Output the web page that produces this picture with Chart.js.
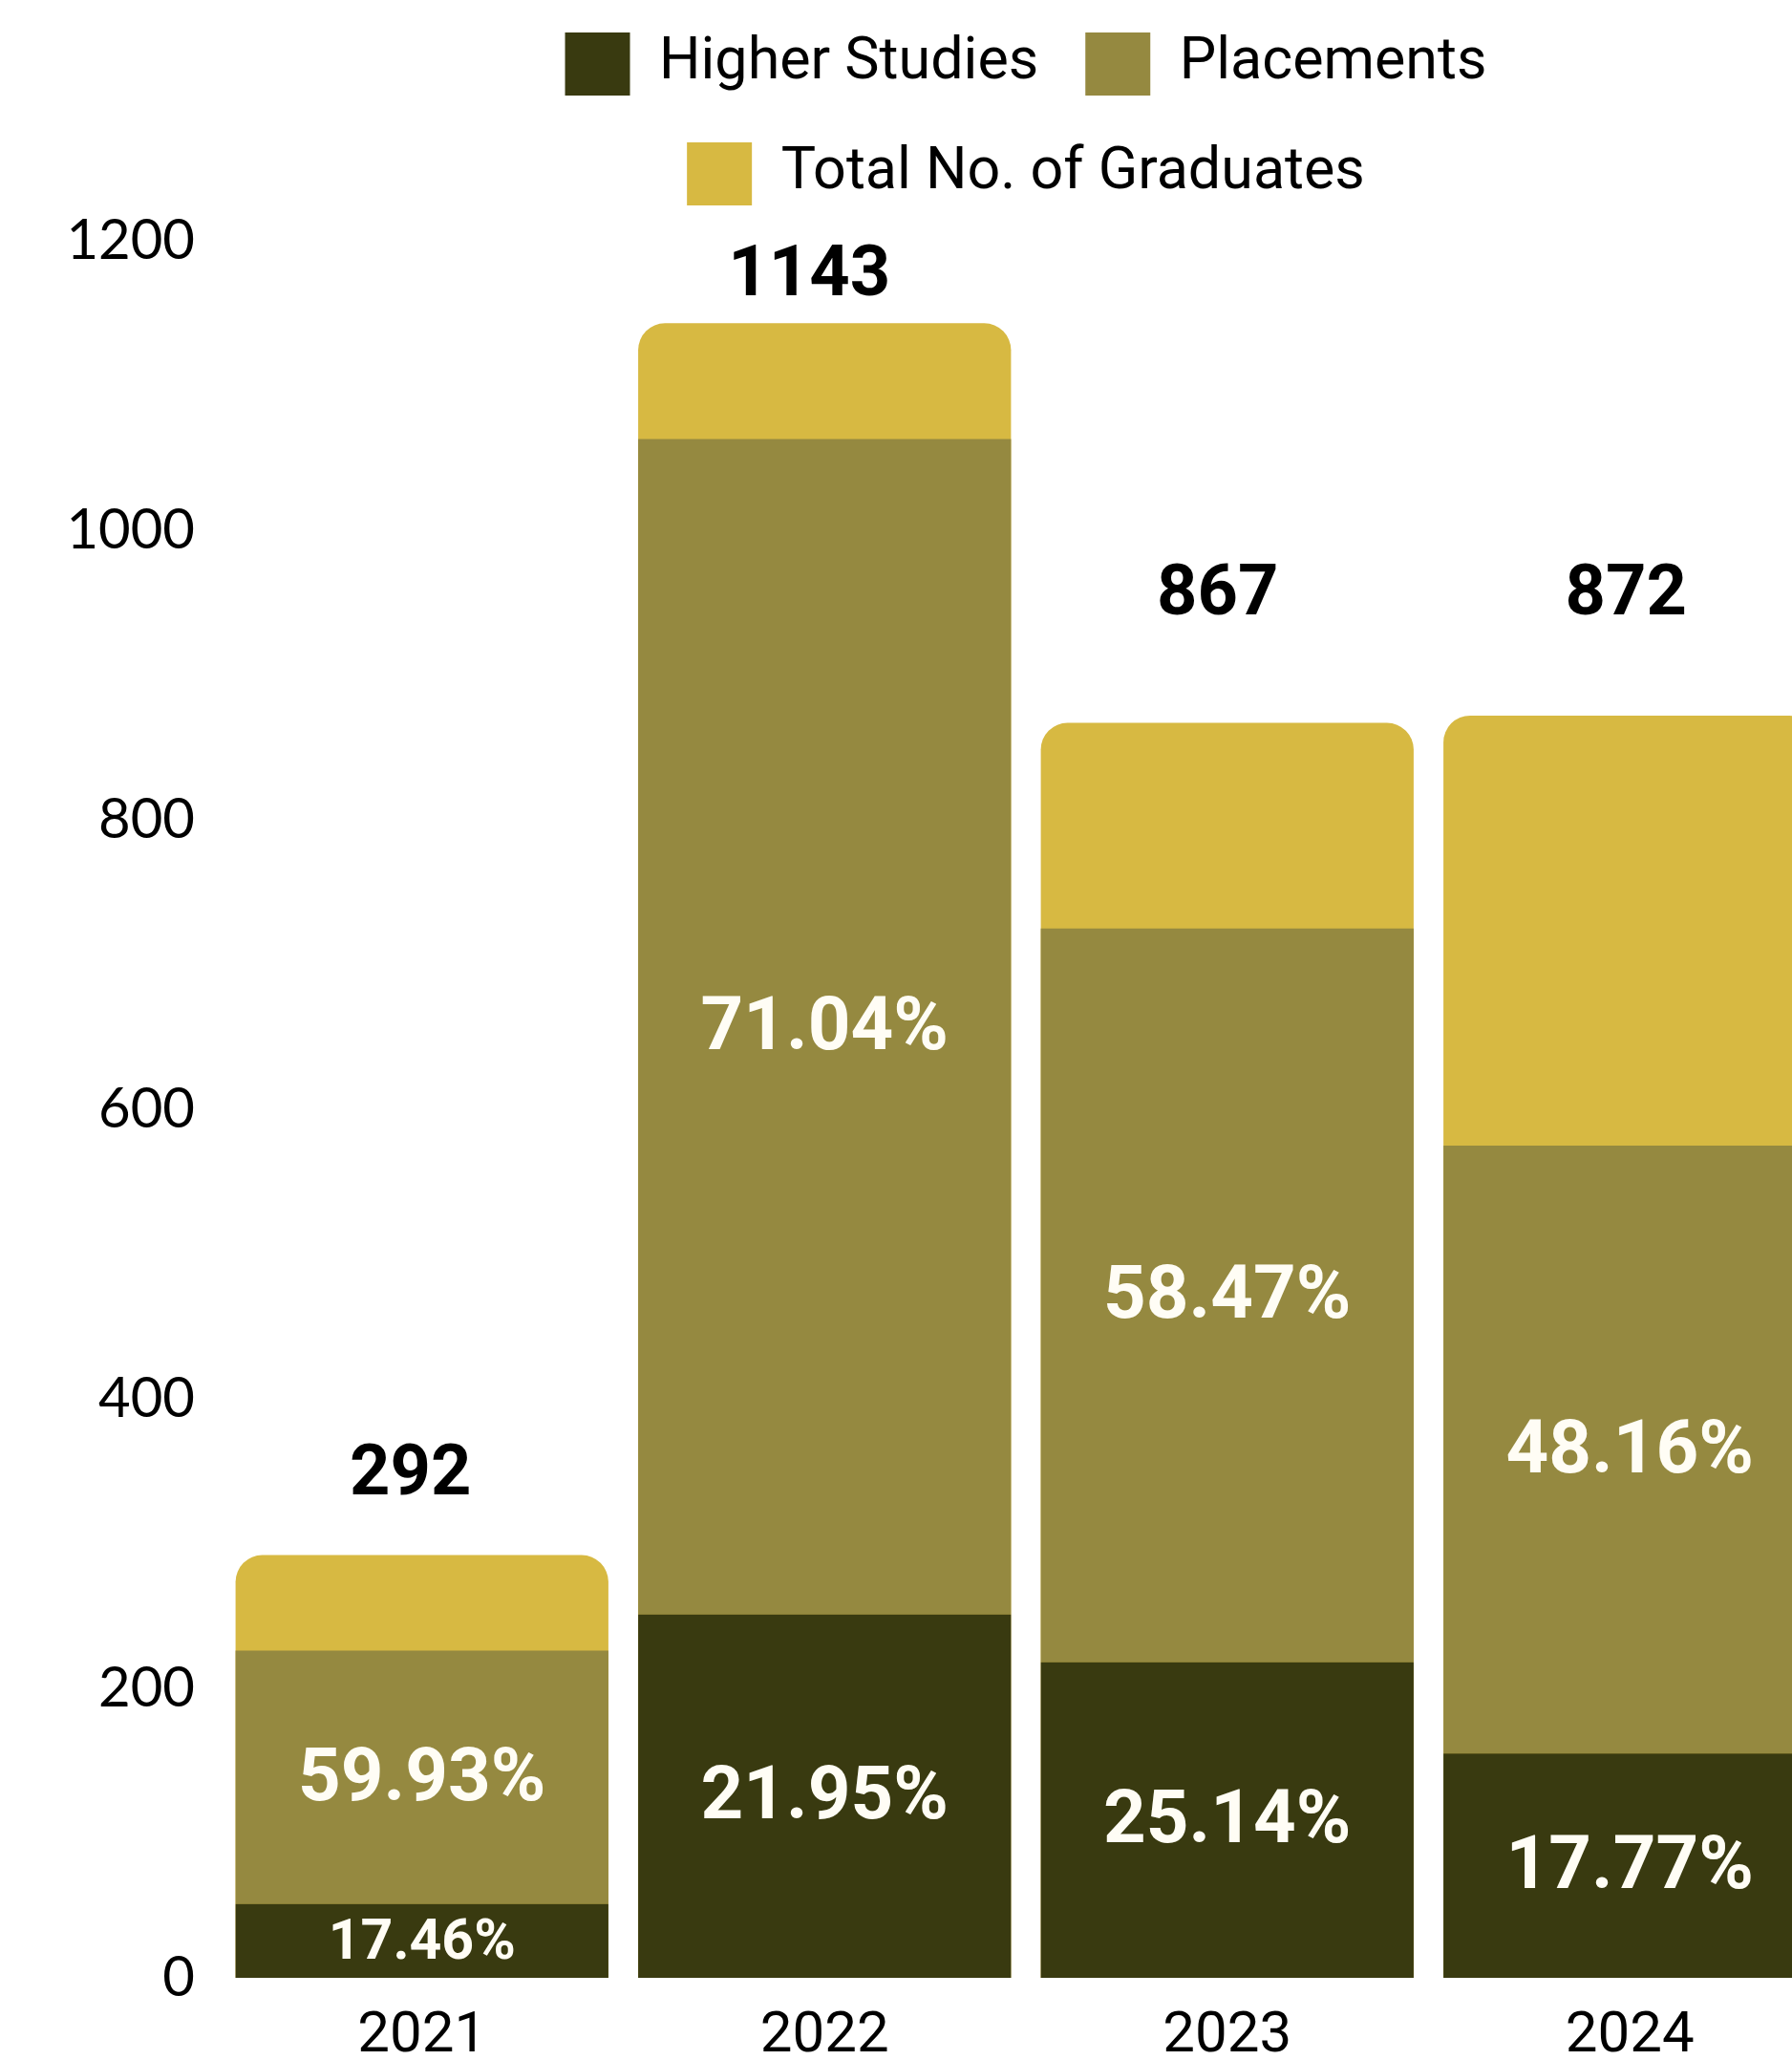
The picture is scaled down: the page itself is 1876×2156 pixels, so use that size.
<!DOCTYPE html>
<html>
<head>
<meta charset="utf-8">
<script src="https://cdn.jsdelivr.net/npm/chart.js@4.4.1/dist/chart.umd.min.js"></script>
<style>
  html, body { margin: 0; padding: 0; background: #fff; overflow: hidden; }
  #wrap { position: absolute; left: 0; top: 0; width: 1940px; height: 2156px; }
</style>
</head>
<body>
<div id="wrap"><canvas id="gradChart"></canvas></div>
<script>
const years = ["2021", "2022", "2023", "2024"];
const higherStudies = [51, 251, 218, 155];
const placements = [175, 812, 507, 420];
const totalGraduates = [292, 1143, 867, 872];
const higherPct = ["17.46%", "21.95%", "25.14%", "17.77%"];
const placementPct = ["59.93%", "71.04%", "58.47%", "48.16%"];
const yTicks = [0, 200, 400, 600, 800, 1000, 1200];

// where the total label sits: [dx, height of its centre above the bar top]
const totalNudge = [[-12, 82], [-16, 48], [-10, 132], [-4, 124]];

const barLabels = {
  id: "barLabels",
  afterDatasetsDraw(chart) {
    const ctx = chart.ctx;
    ctx.save();
    ctx.textAlign = "center";
    ctx.textBaseline = "middle";

    // percentages inside the stacked parts
    const pctSets = [higherPct, placementPct];
    pctSets.forEach((texts, di) => {
      chart.getDatasetMeta(di).data.forEach((bar, i) => {
        const { x, y, base } = bar.getProps(["x", "y", "base"], true);
        const h = base - y;
        ctx.fillStyle = "#fffdf5";
        ctx.font = `bold ${h < 100 ? 59 : 78}px Roboto`;
        ctx.fillText(texts[i], x, (y + base) / 2 + 4);
      });
    });

    // totals above the bars
    chart.getDatasetMeta(2).data.forEach((bar, i) => {
      ctx.fillStyle = "#000";
      ctx.font = "bold 74px Roboto";
      ctx.fillText(String(totalGraduates[i]), bar.x + totalNudge[i][0], bar.y - totalNudge[i][1]);
    });
    ctx.restore();
  },
};

// extra room between the legend and the plot
const legendGap = {
  id: "legendGap",
  beforeUpdate(chart) {
    const legend = chart.legend;
    if (legend && !legend._gapPatched) {
      const fit = legend.fit;
      legend.fit = function () {
        fit.call(this);
        this.height += 27;
      };
      legend._gapPatched = true;
    }
  },
};

const ctx = document.getElementById("gradChart").getContext("2d");
new Chart(ctx, {
  type: "bar",
  data: {
    labels: years,
    datasets: [
      {
        label: "Higher Studies",
        data: higherStudies,
        backgroundColor: "#393a10",
        stack: "parts",
      },
      {
        label: "Placements",
        data: placements,
        backgroundColor: "#958940",
        stack: "parts",
      },
      {
        label: "Total No. of Graduates",
        data: totalGraduates,
        backgroundColor: "#d7b942",
        stack: "total",
        borderRadius: { topLeft: 28, topRight: 28, bottomLeft: 0, bottomRight: 0 },
        borderSkipped: false,
      },
    ],
  },
  options: {
    responsive: true,
    maintainAspectRatio: false,
    animation: false,
    datasets: {
      bar: {
        grouped: false,
        categoryPercentage: 1,
        barPercentage: 0.926,
        borderWidth: 0,
      },
    },
    layout: {
      padding: { top: -15, right: 23, bottom: 0, left: 0 },
    },
    scales: {
      x: {
        stacked: true,
        grid: { display: false },
        border: { display: false },
        ticks: {
          color: "#000",
          padding: 18,
          font: { family: "Roboto", size: 60 },
        },
        afterFit(scale) {
          scale.height = 86;
        },
      },
      y: {
        stacked: true,
        min: 0,
        max: 1200,
        grid: { display: false, drawTicks: false },
        border: { display: false },
        ticks: {
          color: "#000",
          padding: 27,
          font: { family: "Lato", size: 58 },
          callback: (value) => String(value),
        },
        afterBuildTicks(scale) {
          scale.ticks = yTicks.map((v) => ({ value: v }));
        },
        afterFit(scale) {
          scale.width = 231;
        },
      },
    },
    plugins: {
      legend: {
        position: "top",
        fullSize: false,
        labels: {
          boxWidth: 68,
          boxHeight: 66,
          padding: 49,
          color: "#000",
          font: { family: "Roboto", size: 61 },
        },
      },
      tooltip: { enabled: false },
    },
  },
  plugins: [barLabels, legendGap],
});
</script>
</body>
</html>
